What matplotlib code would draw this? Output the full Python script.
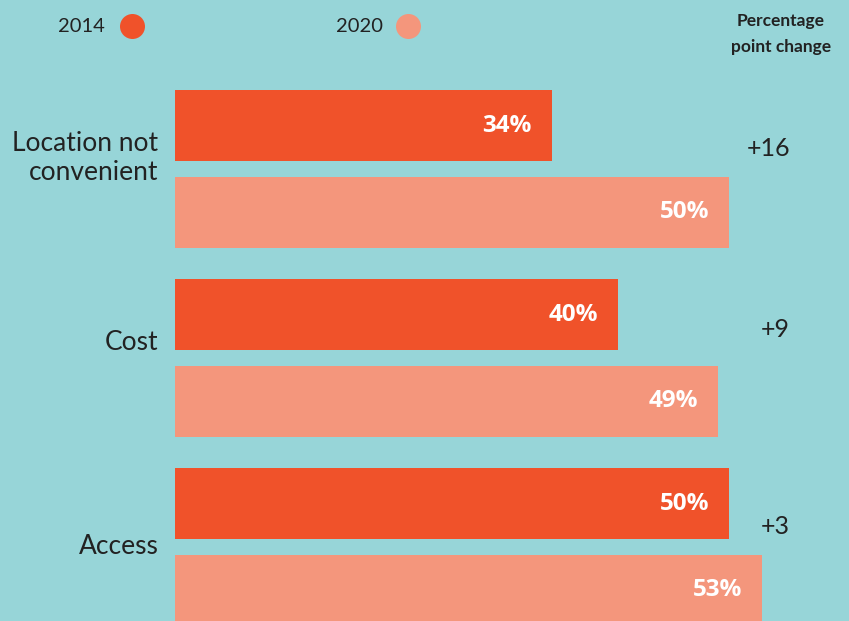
import matplotlib.pyplot as plt
import numpy as np

# Data
categories = ['Location not\nconvenient', 'Cost', 'Access']
values_2014 = [34, 40, 50]
values_2020 = [50, 49, 53]
changes = ['+16', '+9', '+3']

# Colors
bg = '#97D5D8'
c2014 = '#F0522A'
c2020 = '#F4967C'
txt = '#222222'

plt.rcParams['font.family'] = ['Lato', 'DejaVu Sans']

fig = plt.figure(figsize=(8.49, 6.21), dpi=100, facecolor=bg)
ax = fig.add_axes([0, 0, 1, 1])
ax.set_facecolor(bg)
ax.axis('off')

# x: percent (bars start at px 175, 11.08 px per percent)
ax.set_xlim(-175 / 11.08, (849 - 175) / 11.08)
# y: group index (group centers 189 px apart)
ax.set_ylim((621 - 169) / 189, -169 / 189)

y = np.arange(len(categories))
h = 0.376
off = 0.228
label_shift = [-0.06, -0.08, 0.0]
change_shift = [-0.11, -0.15, -0.11]

ax.barh(y - off, values_2014, height=h, color=c2014, edgecolor='none')
ax.barh(y + off, values_2020, height=h, color=c2020, edgecolor='none')

for i in range(len(categories)):
    ax.text(values_2014[i] - 1.8, y[i] - off, f'{values_2014[i]}%', ha='right', va='center',
            color='white', fontsize=17.5, fontweight='bold', family='Open Sans')
    ax.text(values_2020[i] - 1.8, y[i] + off, f'{values_2020[i]}%', ha='right', va='center',
            color='white', fontsize=17.5, fontweight='bold', family='Open Sans')
    ax.text(-1.5, y[i] + label_shift[i], categories[i], ha='right', va='center',
            color=txt, fontsize=19, linespacing=1.2)
    ax.text(55.5, y[i] + change_shift[i], changes[i], ha='right', va='center',
            color=txt, fontsize=18)

# Legend
fig.text(105 / 849, 1 - 26 / 621, '2014', ha='right', va='center', fontsize=14.5, color=txt)
fig.text(383 / 849, 1 - 26 / 621, '2020', ha='right', va='center', fontsize=14.5, color=txt)
ax.plot([132 / 849], [1 - 26 / 621], 'o', ms=18, color=c2014, mec='none',
        transform=fig.transFigure, clip_on=False)
ax.plot([408 / 849], [1 - 26 / 621], 'o', ms=18, color=c2020, mec='none',
        transform=fig.transFigure, clip_on=False)
fig.text(781 / 849, 1 - 34 / 621, 'Percentage\npoint change', ha='center', va='center',
         fontsize=12.5, fontweight='bold', color=txt, linespacing=1.75)

plt.savefig('out.png', dpi=100, facecolor=bg)
plt.close()
